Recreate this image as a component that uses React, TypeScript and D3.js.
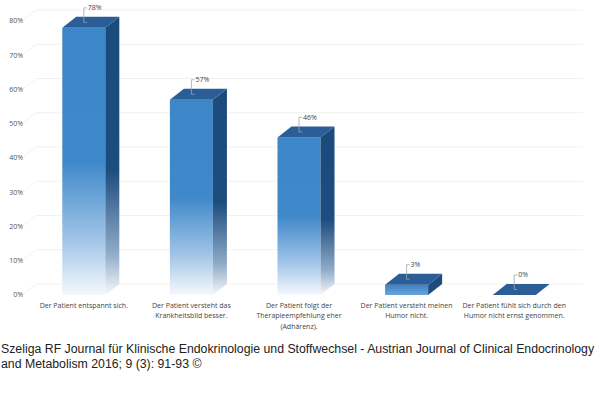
import React from "react";
import * as d3 from "d3";

const categories = [
  ["Der Patient entspannt sich."],
  ["Der Patient versteht das", "Krankheitsbild besser."],
  ["Der Patient folgt der", "Therapieempfehlung eher", "(Adhärenz)."],
  ["Der Patient versteht meinen", "Humor nicht."],
  ["Der Patient fühlt sich durch den", "Humor nicht ernst genommen."],
];
const values = [78, 57, 46, 3, 0];
const yTicks = [0, 10, 20, 30, 40, 50, 60, 70, 80];
const footer = [
  "Szeliga RF Journal für Klinische Endokrinologie und Stoffwechsel - Austrian Journal of Clinical Endocrinology",
  "and Metabolism 2016; 9 (3): 91-93 ©",
];

const W = 600;
const H = 399;
const DX = 14; // depth offset x
const DY = 11; // depth offset y
const labelFont = "'Open Sans', 'DejaVu Sans', sans-serif";

export default function App() {
  const ids = categories.map((_, i) => String(i));
  const x = d3.scaleBand<string>()
    .domain(ids)
    .range([30, 568])
    .paddingInner(0.6)
    .paddingOuter(0.3);
  const y = d3.scaleLinear().domain([0, 80]).range([295, 21]);
  const bw = x.bandwidth();
  const y0 = y(0);

  return (
    <svg width={W} height={H} style={{ position: "absolute", left: 0, top: 0, background: "#fff" }}>
      <defs>
        <linearGradient id="front" x1="0" y1="0" x2="0" y2="1">
          <stop offset="0" stopColor="#3d86c8" />
          <stop offset="0.5" stopColor="#3f88ca" />
          <stop offset="0.8" stopColor="#a3c6e7" />
          <stop offset="1" stopColor="#f5f9fd" />
        </linearGradient>
        <linearGradient id="side" x1="0" y1="0" x2="0" y2="1">
          <stop offset="0" stopColor="#1b4a7c" />
          <stop offset="0.55" stopColor="#1d4c7e" />
          <stop offset="0.85" stopColor="#90abc8" />
          <stop offset="1" stopColor="#f6f8fa" />
        </linearGradient>
        <linearGradient id="frontSmall" x1="0" y1="0" x2="0" y2="1">
          <stop offset="0" stopColor="#3b82c4" />
          <stop offset="1" stopColor="#6aa5dc" />
        </linearGradient>
      </defs>

      {/* back wall gridlines */}
      {yTicks.map(t => (
        <g key={t}>
          <line x1={22} y1={y(t)} x2={22 + DX} y2={y(t) - DY} stroke="#f3f3f3" strokeWidth={1} />
          <line x1={22 + DX} y1={y(t) - DY} x2={583} y2={y(t) - DY} stroke="#f1f1f1" strokeWidth={1} />
        </g>
      ))}

      {/* y axis labels */}
      {yTicks.map(t => (
        <text key={t} x={23} y={y(t)} dy="0.35em" textAnchor="end" fontSize={7} fill="#555" fontFamily={labelFont}>
          {t}%
        </text>
      ))}

      {/* bars */}
      {values.map((v, i) => {
        const x0 = x(String(i))!;
        const x1 = x0 + bw;
        const top = y(v);
        const h = y0 - top;
        const small = h < 20;
        return (
          <g key={i}>
            {h > 0 && (
              <rect x={x0} y={top} width={bw} height={h} fill={small ? "url(#frontSmall)" : "url(#front)"} />
            )}
            {h > 0 && (
              <path
                d={`M${x1},${top}L${x1 + DX},${top - DY}L${x1 + DX},${y0 - DY}L${x1},${y0}Z`}
                fill={small ? "#1d4c7e" : "url(#side)"}
              />
            )}
            <path
              d={`M${x0},${top}L${x0 + DX},${top - DY}L${x1 + DX},${top - DY}L${x1},${top}Z`}
              fill="#2b5d96"
            />
          </g>
        );
      })}

      {/* value labels with leaders */}
      {values.map((v, i) => {
        const cx = x(String(i))! + bw / 2;
        const top = y(v);
        const ly = top - 20;
        return (
          <g key={i}>
            <path
              d={`M${cx + 3},${top - DY / 2}L${cx},${top - DY / 2}L${cx},${ly}L${cx + 3},${ly}`}
              fill="none"
              stroke="#9aa6b2"
              strokeWidth={0.8}
            />
            <text x={cx + 4} y={ly} dy="0.35em" fontSize={7} fill="#444" fontFamily={labelFont}>
              {v}%
            </text>
          </g>
        );
      })}

      {/* category labels */}
      {categories.map((lines, i) => {
        const cx = x(String(i))! + bw / 2;
        return (
          <text key={i} textAnchor="middle" fontSize={7} fill="#444" fontFamily={labelFont}>
            {lines.map((l, j) => (
              <tspan key={j} x={cx} y={307.5 + j * 10.5}>
                {l}
              </tspan>
            ))}
          </text>
        );
      })}

      {/* footer */}
      {footer.map((l, j) => (
        <text key={j} x={1} y={353 + j * 15} fontSize={12.3} fill="#222" fontFamily="'Liberation Sans', Arial, sans-serif">
          {l}
        </text>
      ))}
    </svg>
  );
}
